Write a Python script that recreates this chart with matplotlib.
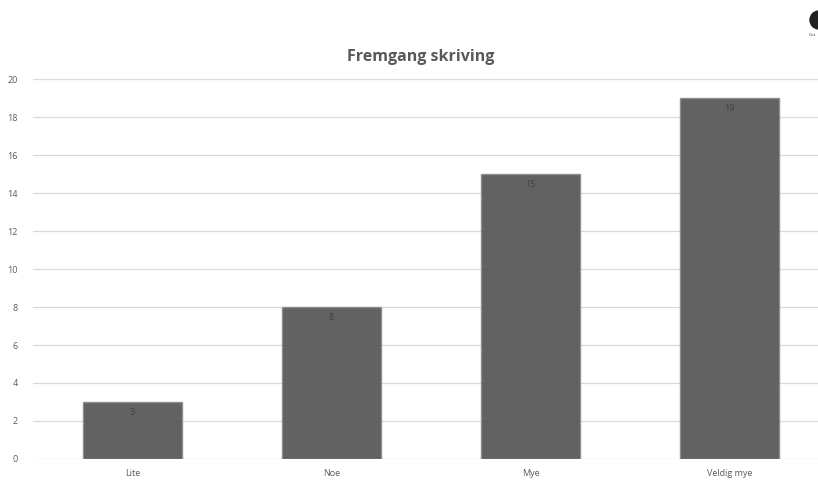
import matplotlib
matplotlib.use("Agg")
import matplotlib.pyplot as plt
from matplotlib.patches import Wedge

# data
categories = ["Lite", "Noe", "Mye", "Veldig mye"]
values = [3, 8, 15, 19]
yticks = [0, 2, 4, 6, 8, 10, 12, 14, 16, 18, 20]

plt.rcParams['font.family'] = ['Open Sans', 'DejaVu Sans']

W, H = 818, 480
fig = plt.figure(figsize=(W / 100, H / 100), dpi=100)

# plot area in pixels
left, right, top, bottom = 33, 818, 79, 459
ax = fig.add_axes([left / W, 1 - bottom / H, (right - left) / W, (bottom - top) / H])

x = range(len(categories))
ax.bar(x, values, width=0.5, color="#595959", edgecolor="#8c8c8c",
       linewidth=1.0, alpha=0.95, zorder=2)

for xi, v in zip(x, values):
    ax.text(xi, v - 0.55, str(v), ha="center", va="center",
            fontsize=6.5, color="#404040", zorder=3)

ax.set_ylim(0, 20)
ax.set_xlim(-0.5, -0.5 + (right - left) / 199.0)
ax.set_yticks(yticks)
ax.set_xticks(list(x))
ax.set_xticklabels(categories)
ax.grid(axis="y", color="#d9d9d9", linewidth=0.9, zorder=1)
ax.set_axisbelow(True)
ax.tick_params(axis="both", length=0, labelsize=6.5, colors="#595959")
ax.tick_params(axis="y", pad=11)
ax.tick_params(axis="x", pad=7)
for s in ax.spines.values():
    s.set_visible(False)

fig.text(421 / W, 1 - 57 / H, "Fremgang skriving", ha="center", va="center",
         fontsize=11.5, fontweight="bold", color="#595959")

# small logo in the corner
lax = fig.add_axes([0, 0, 1, 1], facecolor="none")
lax.set_xlim(0, W)
lax.set_ylim(H, 0)
lax.axis("off")
lax.add_patch(Wedge((819, 20), 9, 90, 270, color="#222222"))
lax.text(812, 35, "Gut", fontsize=3, ha="center", va="center", color="#333333")

fig.savefig("out.png", dpi=100)
